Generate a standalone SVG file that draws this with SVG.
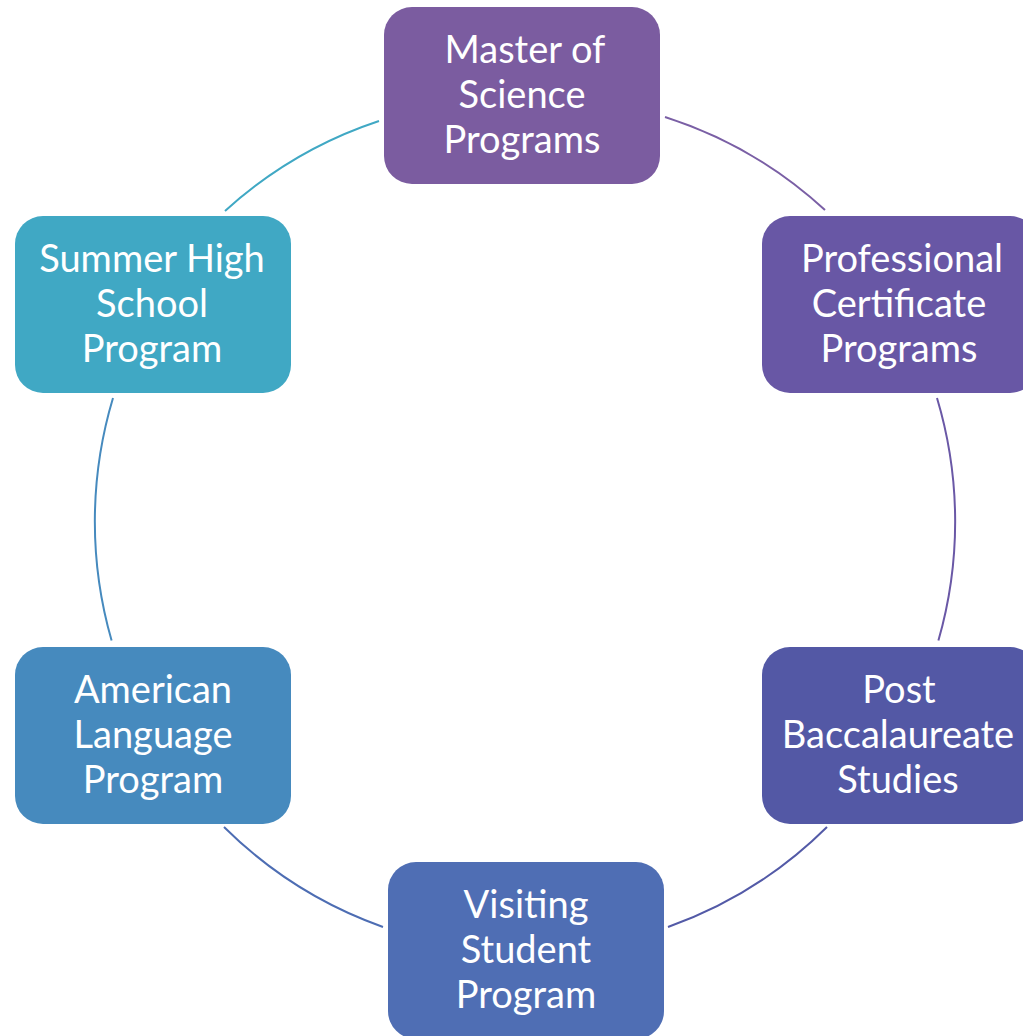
<svg xmlns="http://www.w3.org/2000/svg" width="1023" height="1036" viewBox="0 0 1023 1036">
<style>
.box{stroke:none}
.lbl{font-family:Lato,"Liberation Sans",sans-serif;font-size:38px;fill:#ffffff;text-anchor:middle}
.arc{fill:none;stroke-width:2}
</style>
<rect width="1023" height="1036" fill="#ffffff"/>
<g id="connectors">
<path class="arc" stroke="#7a5fa5" d="M665,117 A430,430 0 0 1 825,210"/>
<path class="arc" stroke="#6a58a6" d="M937,398 A430,430 0 0 1 938.4,640.5"/>
<path class="arc" stroke="#535aa7" d="M827,827 A430,430 0 0 1 668,927"/>
<path class="arc" stroke="#4d6db3" d="M383,927 A430,430 0 0 1 224,827"/>
<path class="arc" stroke="#468abe" d="M111.6,640.5 A430,430 0 0 1 113,398"/>
<path class="arc" stroke="#40a8c4" d="M225,211 A430,430 0 0 1 379,121"/>
</g>
<g id="node-master">
<rect class="box" x="384" y="7" width="276" height="177" rx="28" fill="#7b5ca0"/>
<text class="lbl" x="525" y="63">Master of</text>
<text class="lbl" x="522" y="108">Science</text>
<text class="lbl" x="522" y="153">Programs</text>
</g>
<g id="node-professional">
<rect class="box" x="762" y="216" width="276" height="177" rx="28" fill="#6857a5"/>
<text class="lbl" x="902" y="272">Professional</text>
<text class="lbl" x="899" y="317">Certificate</text>
<text class="lbl" x="899" y="362">Programs</text>
</g>
<g id="node-post">
<rect class="box" x="762" y="647" width="276" height="177" rx="28" fill="#5358a5"/>
<text class="lbl" x="899" y="703">Post</text>
<text class="lbl" x="898" y="748">Baccalaureate</text>
<text class="lbl" x="898" y="793">Studies</text>
</g>
<g id="node-visiting">
<rect class="box" x="388" y="862" width="276" height="177" rx="28" fill="#4f6eb4"/>
<text class="lbl" x="526" y="918">Visiting</text>
<text class="lbl" x="526" y="963">Student</text>
<text class="lbl" x="526" y="1008">Program</text>
</g>
<g id="node-american">
<rect class="box" x="15" y="647" width="276" height="177" rx="28" fill="#468abe"/>
<text class="lbl" x="153" y="703">American</text>
<text class="lbl" x="153" y="748">Language</text>
<text class="lbl" x="153" y="793">Program</text>
</g>
<g id="node-summer">
<rect class="box" x="15" y="216" width="276" height="177" rx="28" fill="#40a8c4"/>
<text class="lbl" x="152" y="272">Summer High</text>
<text class="lbl" x="152" y="317">School</text>
<text class="lbl" x="152" y="362">Program</text>
</g>
</svg>
